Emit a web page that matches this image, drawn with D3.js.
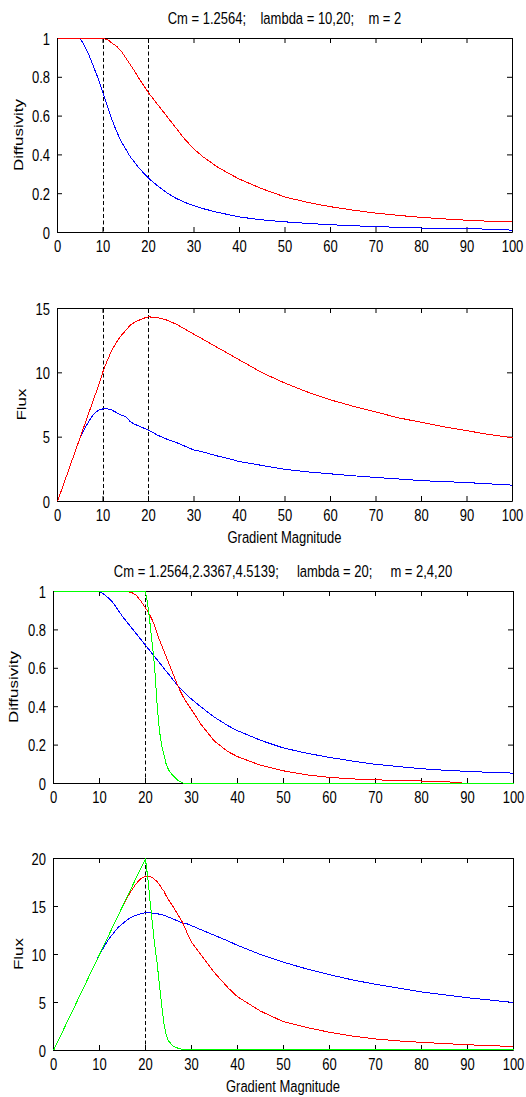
<!DOCTYPE html>
<html>
<head>
<meta charset="utf-8">
<script src="https://cdn.jsdelivr.net/npm/d3@7"></script>
<style>
  body { margin: 0; background: #fff; }
  text { font-family: "Liberation Sans", Arial, sans-serif; font-size: 13px; fill: #000; }
</style>
</head>
<body>
<svg id="fig" width="526" height="1097"></svg>
<script>
// ---- data ----
// top pair: lambda = 10 (blue) and 20 (red), m = 2
const gridA = [0,2,4,5,6,7,8,9,10,11,12,13,14,15,16,17,18,19,20,22,24,26,28,30,32,35,38,40,45,50,55,60,65,70,75,80,85,90,95,100];
const diffBlueA = [1,1,1,1,0.96,0.91,0.85,0.79,0.72,0.65,0.58,0.52,0.47,0.43,0.39,0.36,0.33,0.305,0.28,0.24,0.205,0.177,0.155,0.138,0.123,0.105,0.09,0.08,0.065,0.055,0.047,0.04,0.035,0.03,0.027,0.023,0.021,0.02,0.017,0.012];
const diffRedA = [1,1,1,1,1,1,1,1,1,0.995,0.975,0.96,0.935,0.9,0.865,0.83,0.79,0.755,0.72,0.66,0.6,0.54,0.48,0.43,0.39,0.34,0.3,0.275,0.225,0.183,0.155,0.133,0.115,0.1,0.088,0.078,0.07,0.063,0.058,0.055];
const fluxBlueA = [0,2,4,5,5.7,6.3,6.8,7.1,7.2,7.2,7.1,6.9,6.7,6.6,6.2,6.0,5.85,5.7,5.55,5.15,4.85,4.6,4.3,4.0,3.85,3.55,3.3,3.1,2.8,2.5,2.3,2.15,2.0,1.87,1.75,1.62,1.55,1.47,1.37,1.27];
const fluxRedA = [0,2,4,5,6,7,8,9,10.1,11,11.8,12.4,12.9,13.3,13.7,13.95,14.1,14.25,14.35,14.3,14.1,13.8,13.4,13.0,12.6,12.0,11.4,11.0,10.0,9.2,8.5,7.9,7.4,6.95,6.5,6.15,5.8,5.5,5.2,4.95];

// bottom pair: lambda = 20, m = 2 (blue), 4 (red), 20 (green)
const gridB = [0,5,10,11,12,13,14,15,16,17,18,19,20,20.5,21,21.5,22,22.5,23,23.5,24,24.5,25,26,27,28,29,30,32,35,38,40,45,50,55,60,65,70,75,80,85,90,95,100];
const diffBlueB = [1,1,1,0.985,0.965,0.94,0.905,0.87,0.84,0.81,0.78,0.75,0.72,0.705,0.69,0.675,0.66,0.645,0.63,0.615,0.6,0.585,0.57,0.54,0.51,0.485,0.46,0.44,0.4,0.345,0.3,0.275,0.225,0.185,0.158,0.136,0.117,0.1,0.088,0.077,0.069,0.063,0.058,0.054];
const diffRedB = [1,1,1,1,1,1,1,1,1,0.995,0.98,0.95,0.915,0.895,0.875,0.85,0.82,0.785,0.75,0.72,0.69,0.66,0.63,0.57,0.51,0.46,0.42,0.385,0.31,0.22,0.165,0.14,0.095,0.066,0.045,0.032,0.024,0.019,0.016,0.013,0.01,0,0,0];
const diffGreenB = [1,1,1,1,1,1,1,1,1,1,1,1,1,0.93,0.83,0.72,0.6,0.42,0.28,0.2,0.15,0.1,0.072,0.04,0.018,0.003,0,0,0,0,0,0,0,0,0,0,0,0,0,0,0,0,0,0];
const fluxBlueB = [0,5,10,10.8,11.6,12.2,12.8,13.2,13.6,13.9,14.1,14.25,14.35,14.35,14.35,14.3,14.3,14.25,14.2,14.15,14.1,14.0,13.9,13.7,13.5,13.3,13.2,13.0,12.6,12.0,11.4,10.95,10.0,9.2,8.5,7.9,7.35,6.9,6.5,6.1,5.8,5.5,5.25,5.0];
const fluxRedB = [0,5,10,11,12,13,14,15,15.9,16.7,17.4,17.9,18.15,18.2,18.1,18.0,17.8,17.6,17.3,16.9,16.6,16.1,15.7,15.0,14.2,13.4,12.3,11.3,10.0,8.1,6.5,5.6,4.1,3.0,2.4,1.9,1.5,1.2,1.0,0.85,0.72,0.6,0.5,0.42];
const fluxGreenB = [0,5,10,11,12,13,14,15,16,17,18,19,19.9,18,15.5,13.2,11,9.2,7,4.8,2.8,1.6,1.0,0.45,0.25,0.1,0.08,0.08,0.08,0.08,0.08,0.08,0.08,0.08,0.08,0.08,0.08,0.08,0.08,0.08,0.08,0.08,0.08,0.08];

const lambdaA = [10, 20];
const lambdaB = [20];

const xTicks = [0,10,20,30,40,50,60,70,80,90,100];
const diffTicks = [0,0.2,0.4,0.6,0.8,1];
const fluxTicksA = [0,5,10,15];
const fluxTicksB = [0,5,10,15,20];

const titleA = "Cm = 1.2564;    lambda = 10,20;    m = 2";
const titleB = "Cm = 1.2564,2.3367,4.5139;     lambda = 20;     m = 2,4,20";
const xLabel = "Gradient Magnitude";

// ---- drawing ----
const SY = 1.3; // the source picture is stretched vertically, text too
const svg = d3.select("#fig");
const fmt = d3.format("~g");

// bottom tick labels sit under the axis, stretched
function bottomLabels(sel) {
  sel.selectAll(".tick text")
    .attr("y", null).attr("dy", null)
    .attr("transform", `translate(0,20) scale(1,${SY})`);
}
function leftLabels(sel) {
  sel.selectAll(".tick text")
    .attr("x", null).attr("dy", null)
    .attr("transform", `translate(-7,6) scale(1,${SY})`);
}
function plain(sel) {
  sel.attr("font-size", null).attr("font-family", null);
  sel.selectAll("line, path").attr("stroke", "#000");
}

function panel(p) {
  const x = d3.scaleLinear().domain([0, 100]).range([p.left, p.right]);
  const y = d3.scaleLinear().domain([0, p.yTicks[p.yTicks.length - 1]]).range([p.bottom, p.top]);
  const g = svg.append("g");

  // box with inward ticks on all four sides
  g.append("g").attr("transform", `translate(0,${p.bottom})`)
    .call(d3.axisBottom(x).tickValues(xTicks).tickSizeInner(-5).tickSizeOuter(0).tickFormat(fmt))
    .call(plain).call(bottomLabels);
  g.append("g").attr("transform", `translate(0,${p.top})`)
    .call(d3.axisTop(x).tickValues(xTicks).tickSizeInner(-5).tickSizeOuter(0).tickFormat(() => ""))
    .call(plain);
  g.append("g").attr("transform", `translate(${p.left},0)`)
    .call(d3.axisLeft(y).tickValues(p.yTicks).tickSizeInner(-5).tickSizeOuter(0).tickFormat(fmt))
    .call(plain).call(leftLabels);
  g.append("g").attr("transform", `translate(${p.right},0)`)
    .call(d3.axisRight(y).tickValues(p.yTicks).tickSizeInner(-5).tickSizeOuter(0).tickFormat(() => ""))
    .call(plain);

  // curves and markers share the axes' half-pixel offset
  const plot = g.append("g").attr("transform", "translate(0.5,0.5)");

  // dashed lambda markers
  plot.selectAll(".lam").data(p.lambdas).enter().append("line")
    .attr("x1", d => Math.round(x(d))).attr("x2", d => Math.round(x(d)))
    .attr("y1", y.range()[1]).attr("y2", y.range()[0])
    .attr("stroke", "#000").attr("stroke-dasharray", "4,2.5");

  const line = d3.line().x(d => x(d[0])).y(d => y(d[1]));
  p.series.forEach(s => {
    plot.append("path").datum(d3.zip(p.grid, s.values))
      .attr("d", line).attr("fill", "none")
      .attr("stroke", s.color).attr("stroke-width", 1)
      .attr("shape-rendering", "crispEdges");
  });

  // y label, rotated and stretched along its length
  g.append("text")
    .attr("transform", `translate(${p.ylabX},${(p.top + p.bottom) / 2}) rotate(-90) scale(${SY},1)`)
    .attr("text-anchor", "middle").text(p.ylab);

  if (p.title) {
    g.append("text").attr("transform", `translate(${(p.left + p.right) / 2},${p.top - 14}) scale(1,${SY})`)
      .attr("text-anchor", "middle").style("white-space", "pre").text(p.title);
  }
  if (p.xlab) {
    g.append("text").attr("transform", `translate(${(p.left + p.right) / 2},${p.bottom + 42}) scale(1,${SY})`)
      .attr("text-anchor", "middle").text(p.xlab);
  }
}

panel({ left: 57, right: 512, top: 38, bottom: 232, yTicks: diffTicks, grid: gridA, lambdas: lambdaA,
  series: [{ values: diffBlueA, color: "#0000ff" }, { values: diffRedA, color: "#ff0000" }],
  ylab: "Diffusivity", ylabX: 23, title: titleA });
panel({ left: 57, right: 512, top: 308, bottom: 501, yTicks: fluxTicksA, grid: gridA, lambdas: lambdaA,
  series: [{ values: fluxBlueA, color: "#0000ff" }, { values: fluxRedA, color: "#ff0000" }],
  ylab: "Flux", ylabX: 26, xlab: xLabel });
panel({ left: 53, right: 513, top: 591, bottom: 783, yTicks: diffTicks, grid: gridB, lambdas: lambdaB,
  series: [{ values: diffBlueB, color: "#0000ff" }, { values: diffRedB, color: "#ff0000" }, { values: diffGreenB, color: "#00ff00" }],
  ylab: "Diffusivity", ylabX: 18, title: titleB });
panel({ left: 53, right: 513, top: 858, bottom: 1050, yTicks: fluxTicksB, grid: gridB, lambdas: lambdaB,
  series: [{ values: fluxBlueB, color: "#0000ff" }, { values: fluxRedB, color: "#ff0000" }, { values: fluxGreenB, color: "#00ff00" }],
  ylab: "Flux", ylabX: 23, xlab: xLabel });
</script>
</body>
</html>
